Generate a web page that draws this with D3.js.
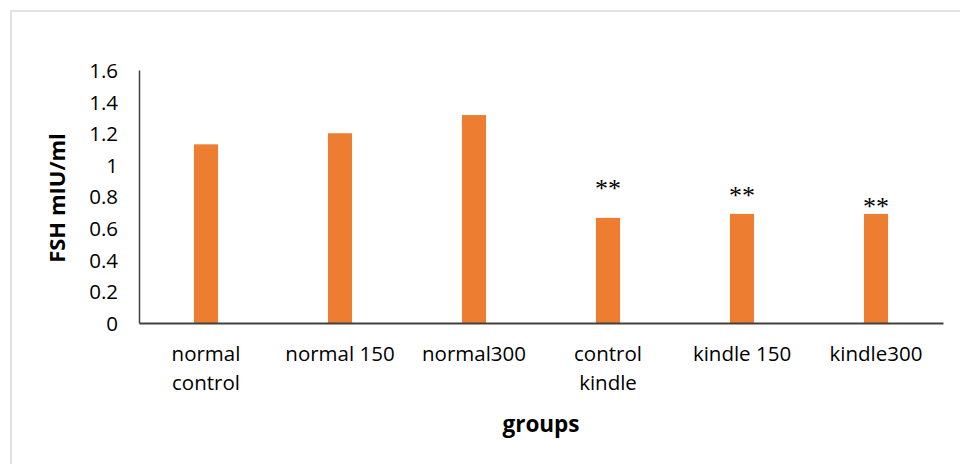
<!DOCTYPE html>
<html>
<head>
<meta charset="utf-8">
<script src="https://cdn.jsdelivr.net/npm/d3@7"></script>
<style>
  body { margin: 0; background: #fff; }
  text { font-family: "Open Sans", "Liberation Sans", sans-serif; fill: #000; }
</style>
</head>
<body>
<div id="chart"></div>
<script>
// chart data
const groups = ["normal control", "normal 150", "normal300", "control kindle", "kindle 150", "kindle300"];
const groupLines = [["normal", "control"], ["normal 150"], ["normal300"], ["control", "kindle"], ["kindle 150"], ["kindle300"]];
const fshValues = [1.13, 1.20, 1.315, 0.665, 0.69, 0.69];
const starLabels = ["", "", "", "**", "**", "**"];
const starValues = [0, 0, 0, 0.80, 0.75, 0.685];
const yTicks = [0, 0.2, 0.4, 0.6, 0.8, 1, 1.2, 1.4, 1.6];

const W = 960, H = 464;
const margin = {top: 70, right: 17, bottom: 141, left: 139};
const width = W - margin.left - margin.right;
const height = H - margin.top - margin.bottom;

const svg = d3.select("#chart")
              .append("svg")
              .attr("width", W)
              .attr("height", H);

// outer frame (only top/left visible)
svg.append("rect")
   .attr("x", 11).attr("y", 11)
   .attr("width", W + 20).attr("height", H + 20)
   .attr("fill", "none")
   .attr("stroke", "#d9d9d9")
   .attr("stroke-width", 1.5);

const g = svg.append("g")
             .attr("transform", `translate(${margin.left},${margin.top})`);

const x = d3.scaleBand()
            .domain(groups)
            .range([0, width])
            .padding(0);

const y = d3.scaleLinear()
            .domain([0, 1.6])
            .range([height, 0]);

const barW = x.bandwidth() * 0.18;

// bars
g.selectAll(".bar")
 .data(groups)
 .enter()
 .append("rect")
 .attr("x", (d) => x(d) + x.bandwidth() / 2 - barW / 2)
 .attr("y", (d, i) => y(fshValues[i]))
 .attr("width", barW)
 .attr("height", (d, i) => height - y(fshValues[i]))
 .attr("fill", "#ed7d31");

// y axis
const yAxis = g.append("g")
               .call(d3.axisLeft(y).tickValues(yTicks).tickSize(0).tickPadding(21)
                       .tickFormat(d => d3.format("")(+d.toFixed(1))));
yAxis.select(".domain").attr("stroke", "#404040").attr("stroke-width", 1.5);
yAxis.selectAll("text")
     .style("font-family", "'Open Sans', sans-serif")
     .style("font-size", "20.5px")
     .attr("dy", "0.36em")
     .attr("fill", "#000");

// x axis
const xAxis = g.append("g")
               .attr("transform", `translate(0,${height})`)
               .call(d3.axisBottom(x).tickSize(0).tickFormat(""));
xAxis.select(".domain").attr("stroke", "#404040").attr("stroke-width", 2);

// category labels
groupLines.forEach((lines, i) => {
    const t = g.append("text")
               .attr("x", x(groups[i]) + x.bandwidth() / 2)
               .attr("y", height + 38)
               .attr("text-anchor", "middle")
               .style("font-size", "20.5px");
    lines.forEach((ln, j) => {
        t.append("tspan")
         .attr("x", x(groups[i]) + x.bandwidth() / 2)
         .attr("dy", j === 0 ? 0 : 29)
         .text(ln);
    });
});

// significance stars
g.selectAll(".star")
 .data(groups.filter((d, i) => starLabels[i] !== ""))
 .enter()
 .append("text")
 .attr("x", d => x(d) + x.bandwidth() / 2)
 .attr("y", d => y(starValues[groups.indexOf(d)]))
 .attr("text-anchor", "middle")
 .style("font-family", "'Liberation Serif', 'DejaVu Serif', serif")
 .style("font-size", "26px")
 .attr("fill", "#1a1a1a")
 .text(d => starLabels[groups.indexOf(d)]);

// axis titles
g.append("text")
 .attr("x", width / 2)
 .attr("y", height + 109)
 .attr("text-anchor", "middle")
 .style("font-size", "22.5px")
 .style("font-weight", "bold")
 .attr("fill", "#404040")
 .text("groups");

g.append("text")
 .attr("transform", "rotate(-90)")
 .attr("x", -(198 - margin.top))
 .attr("y", -margin.left + 65)
 .attr("text-anchor", "middle")
 .style("font-size", "22px")
 .style("font-weight", "bold")
 .attr("fill", "#262626")
 .text("FSH mIU/ml");
</script>
</body>
</html>
